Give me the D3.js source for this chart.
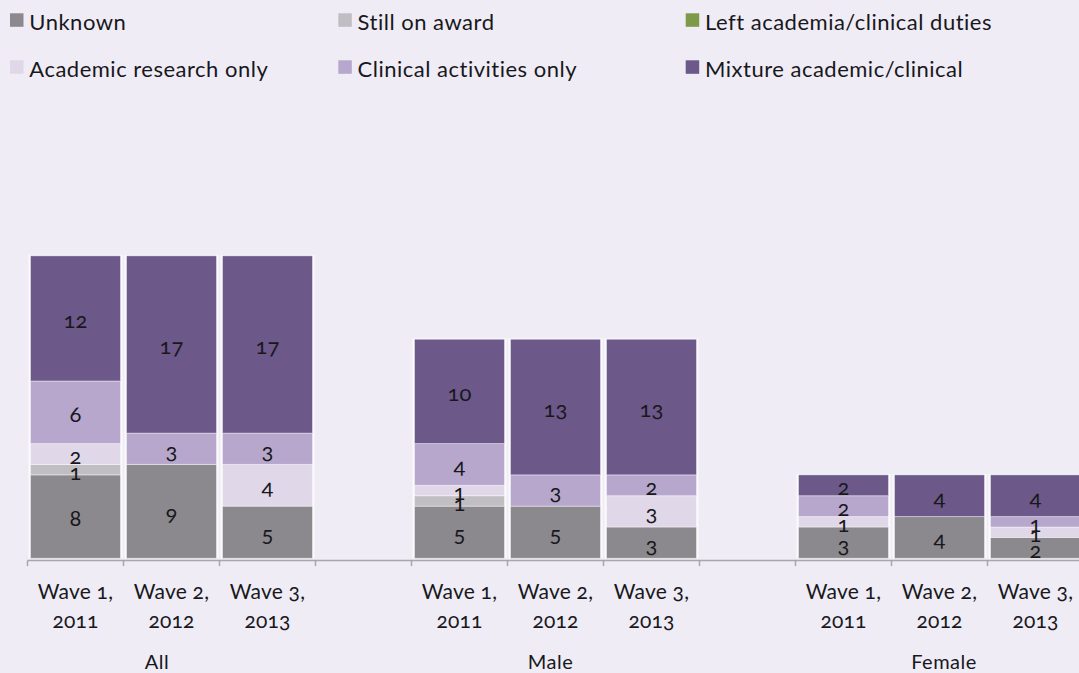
<!DOCTYPE html>
<html>
<head>
<meta charset="utf-8">
<script src="https://cdn.jsdelivr.net/npm/d3@7"></script>
<style>
  html, body { margin: 0; padding: 0; background: #EFECF5; }
  svg { display: block; }
  text { font-family: Lato, "Noto Sans", sans-serif; font-variant-numeric: oldstyle-nums; font-feature-settings: "onum" 1; fill: #18181c; }
</style>
</head>
<body>
<svg id="chart" width="1079" height="673"></svg>
<script>
// Categories
const groups = ["All", "Male", "Female"];
const waveLines = [["Wave 1,", "2011"], ["Wave 2,", "2012"], ["Wave 3,", "2013"]];

// Series (stack order, bottom to top)
const seriesNames = [
  "Unknown",
  "Still on award",
  "Left academia/clinical duties",
  "Academic research only",
  "Clinical activities only",
  "Mixture academic/clinical"
];
const seriesColors = ["#8B898D", "#C0BEC3", "#7E9A48", "#E0D8E9", "#B7A7CC", "#6C5889"];

// Values per bar: All W1..W3, Male W1..W3, Female W1..W3
const unknown      = [8, 9, 5,   5, 5, 3,   3, 4, 2];
const stillOnAward = [1, 0, 0,   1, 0, 0,   0, 0, 0];
const leftAcademia = [0, 0, 0,   0, 0, 0,   0, 0, 0];
const academicOnly = [2, 0, 4,   1, 0, 3,   1, 0, 1];
const clinicalOnly = [6, 3, 3,   4, 3, 2,   2, 0, 1];
const mixture      = [12, 17, 17, 10, 13, 13, 2, 4, 4];

const seriesValues = [unknown, stillOnAward, leftAcademia, academicOnly, clinicalOnly, mixture];

// Build rows for the stack
const rows = [];
groups.forEach((g, gi) => {
  waveLines.forEach((w, wi) => {
    const idx = gi * waveLines.length + wi;
    const row = { key: g + "|" + wi, group: g, wave: wi };
    seriesNames.forEach((s, si) => { row[s] = seriesValues[si][idx]; });
    rows.push(row);
  });
});

// Category slots, with an empty slot between groups
const slots = [];
groups.forEach((g, gi) => {
  waveLines.forEach((w, wi) => slots.push(g + "|" + wi));
  if (gi < groups.length - 1) slots.push("gap" + gi);
});

const svg = d3.select("#chart");

const x = d3.scaleBand().domain(slots).range([27.5, 27.5 + slots.length * 96]).padding(0);
const bw = x.bandwidth();
const y = d3.scaleLinear().domain([0, 40]).range([558.3, 558.3 - 40 * 10.43]);
const gx = d3.scalePoint().domain(groups).range([157, 944]);

const stack = d3.stack().keys(seriesNames);
const stacked = stack(rows);

// Light backing behind each stacked bar
svg.append("g").selectAll("rect")
  .data(rows)
  .join("rect")
  .attr("x", d => x(d.key) + 1)
  .attr("width", bw - 2)
  .attr("y", d => y(d3.sum(seriesNames, s => d[s])) - 1)
  .attr("height", d => y(0) - y(d3.sum(seriesNames, s => d[s])) + 1)
  .attr("fill", "#FAF9FC");

// Segments
const layers = svg.append("g").selectAll("g")
  .data(stacked)
  .join("g")
  .attr("fill", (d, i) => seriesColors[i]);

layers.selectAll("rect")
  .data(d => d.filter(p => p[1] - p[0] > 0))
  .join("rect")
  .attr("x", p => x(p.data.key) + 3)
  .attr("width", bw - 6)
  .attr("y", p => y(p[1]))
  .attr("height", p => y(p[0]) - y(p[1]))
  .attr("stroke", "rgba(255,255,255,0.4)")
  .attr("stroke-width", 1);

// Value labels
const labels = svg.append("g");
stacked.forEach(layer => {
  layer.filter(p => p[1] - p[0] > 0).forEach(p => {
    labels.append("text")
      .attr("x", x(p.data.key) + bw / 2)
      .attr("y", (y(p[0]) + y(p[1])) / 2)
      .attr("dy", "0.45em")
      .attr("text-anchor", "middle")
      .attr("font-size", 22)
      .text(p[1] - p[0]);
  });
});

// Category axis
const axisY = 560.6;
const axis = svg.append("g");
axis.append("line")
  .attr("x1", x.range()[0]).attr("x2", 1079)
  .attr("y1", axisY).attr("y2", axisY)
  .attr("stroke", "#A8A5AD").attr("stroke-width", 1.5);
axis.selectAll("line.tick")
  .data(slots.concat(["end"]))
  .join("line")
  .attr("class", "tick")
  .attr("x1", d => d === "end" ? x.range()[1] : x(d))
  .attr("x2", d => d === "end" ? x.range()[1] : x(d))
  .attr("y1", axisY).attr("y2", axisY + 5.5)
  .attr("stroke", "#A8A5AD").attr("stroke-width", 1.5);

// Wave labels, two lines
rows.forEach(r => {
  const t = axis.append("text")
    .attr("x", x(r.key) + bw / 2)
    .attr("y", 599)
    .attr("text-anchor", "middle")
    .attr("font-size", 21)
    .attr("letter-spacing", 0.2);
  t.append("tspan").attr("x", x(r.key) + bw / 2).text(waveLines[r.wave][0]);
  t.append("tspan").attr("x", x(r.key) + bw / 2).attr("dy", 29.3).text(waveLines[r.wave][1]);
});

// Group labels
axis.selectAll("text.group")
  .data(groups)
  .join("text")
  .attr("class", "group")
  .attr("x", d => gx(d))
  .attr("y", 669)
  .attr("text-anchor", "middle")
  .attr("font-size", 20)
  .attr("letter-spacing", 0.5)
  .text(d => d);

// Legend: two rows of three
const legendCols = [10, 338.3, 685.7];
const legendRows = [30, 77];
const legend = svg.append("g");
seriesNames.forEach((s, i) => {
  const cx = legendCols[i % 3];
  const cy = legendRows[Math.floor(i / 3)];
  legend.append("rect")
    .attr("x", cx).attr("y", cy - 16.7)
    .attr("width", 13.5).attr("height", 13.5)
    .attr("fill", seriesColors[i]);
  legend.append("text")
    .attr("x", cx + 19.3).attr("y", cy)
    .attr("font-size", 22)
    .attr("letter-spacing", 0.5)
    .text(s);
});
</script>
</body>
</html>
